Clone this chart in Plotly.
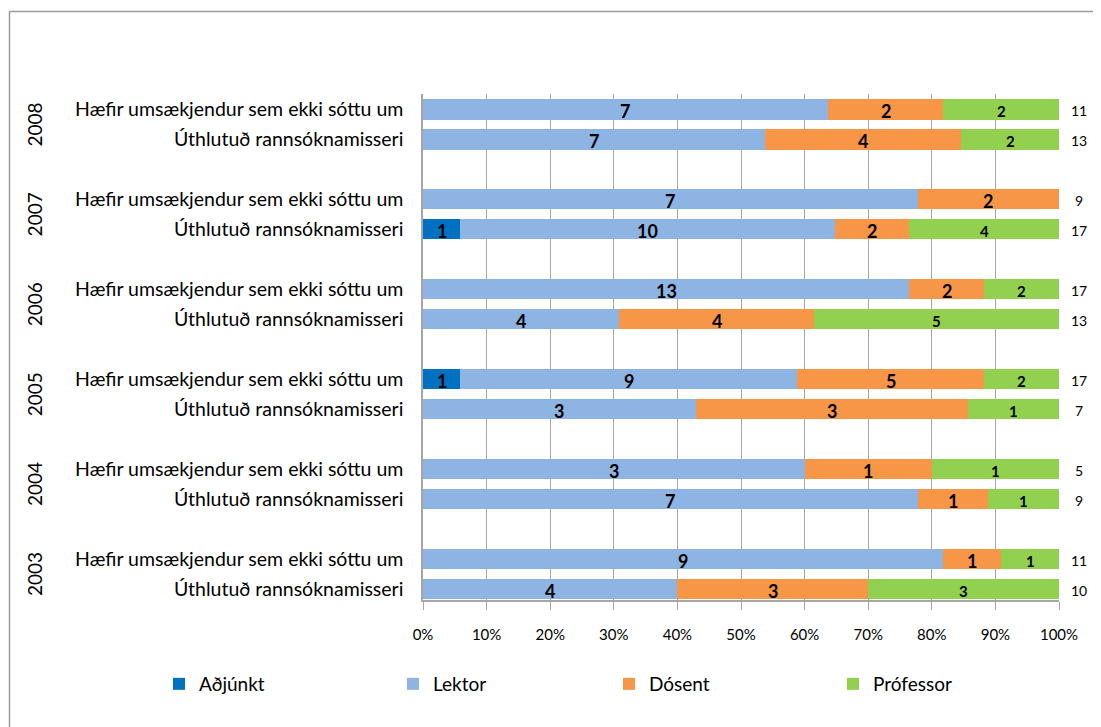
import plotly.graph_objects as go

# ---------------- data ----------------
years = ["2008", "2007", "2006", "2005", "2004", "2003"]
row_labels = ["Hæfir umsækjendur sem ekki sóttu um", "Úthlutuð rannsóknamisseri"]
series_names = ["Aðjúnkt", "Lektor", "Dósent", "Prófessor"]
series_colors = ["#0070C0", "#8EB4E3", "#F79646", "#92D050"]
# per year (2008 .. 2003): [Hæfir umsækjendur..., Úthlutuð rannsóknamisseri]
adjunkt = [[0, 0], [0, 1], [0, 0], [1, 0], [0, 0], [0, 0]]
lektor = [[7, 7], [7, 10], [13, 4], [9, 3], [3, 7], [9, 4]]
dosent = [[2, 4], [2, 2], [2, 4], [5, 3], [1, 1], [1, 3]]
professor = [[2, 2], [0, 4], [2, 5], [2, 1], [1, 1], [1, 3]]
x_ticks = [0, 10, 20, 30, 40, 50, 60, 70, 80, 90, 100]
x_tick_labels = [f"{v}%" for v in x_ticks]

series_data = [adjunkt, lektor, dosent, professor]

# ---------------- layout helpers ----------------
OFF = 8  # page body margin
W, H = 1093, 719
PLOT_L, PLOT_R, PLOT_T, PLOT_B = 423, 1059, 94, 600  # page pixels
L = PLOT_L - OFF
R = W - (PLOT_R - OFF)
T = PLOT_T - OFF
B = H - (PLOT_B - OFF)
pw, ph = W - L - R, H - T - B
n_slots = 3 * len(years) - 1  # two bars per year plus gap between years
top_index = n_slots - 1


def px_x(px):
    return (px - OFF - L) / pw


def px_y(py):
    return (H - B - (py - OFF)) / ph


# positions of bars (slot indices)
y_pos, y_text = [], []
for g, yr in enumerate(years):
    for k, lab in enumerate(row_labels):
        y_pos.append(top_index - 3 * g - k)
        y_text.append(lab)

flat = [[v for pair in s for v in pair] for s in series_data]
totals = [sum(col) for col in zip(*flat)]
pct = [[v / t * 100 for v, t in zip(s, totals)] for s in flat]

FONT = "Lato"
fig = go.Figure()
annotations = []

cum = [0.0] * len(totals)
label_sizes = [18, 18, 18, 15]
for i, (name, color) in enumerate(zip(series_names, series_colors)):
    leg = "legend" if i == 0 else f"legend{i + 1}"
    fig.add_trace(go.Bar(
        orientation="h", x=pct[i], y=y_pos, name=name,
        marker=dict(color=color, line=dict(width=0)),
        width=0.67, legend=leg, hoverinfo="skip",
    ))
    for c, p, v, y in zip(cum, pct[i], flat[i], y_pos):
        if v > 0:
            annotations.append(dict(
                x=c + p / 2, y=y, xref="x", yref="y", text=f"<b>{v}</b>",
                showarrow=False, xanchor="center", yanchor="middle",
                yshift=-2,
                font=dict(family=FONT, size=label_sizes[i], color="black"),
            ))
    cum = [c + p for c, p in zip(cum, pct[i])]

# totals at right
for y, t in zip(y_pos, totals):
    annotations.append(dict(
        x=100, y=y, xref="x", yref="y", text=str(t), showarrow=False,
        xanchor="center", yanchor="middle", xshift=20, yshift=-1,
        font=dict(family=FONT, size=14, color="black"),
    ))
# year labels
for g, yr in enumerate(years):
    annotations.append(dict(
        x=px_x(34), y=top_index - 3 * g - 0.5, xref="paper", yref="y",
        text=yr, textangle=-90, showarrow=False,
        xanchor="center", yanchor="middle",
        font=dict(family=FONT, size=19, color="black"),
    ))

frame_col = "#9C9C9C"
shapes = [
    dict(type="line", xref="paper", yref="paper",
         x0=px_x(9.5), x1=px_x(1110), y0=px_y(11.5), y1=px_y(11.5),
         line=dict(color=frame_col, width=1.5)),
    dict(type="line", xref="paper", yref="paper",
         x0=px_x(9.5), x1=px_x(9.5), y0=px_y(11.5), y1=px_y(740),
         line=dict(color=frame_col, width=1.5)),
]

legend_square_centers = [184, 418, 634, 858]
legend_common = dict(
    orientation="h", yanchor="middle", xanchor="left",
    y=px_y(684), bgcolor="rgba(0,0,0,0)",
    font=dict(family=FONT, size=19, color="black"),
)
legends = {}
for i, cx in enumerate(legend_square_centers):
    key = "legend" if i == 0 else f"legend{i + 1}"
    legends[key] = dict(legend_common, x=px_x(cx - 25))

grid_col = "#A6A6A6"
fig.update_layout(
    width=W, height=H, autosize=False,
    margin=dict(l=L, r=R, t=T, b=B, pad=0),
    barmode="stack", bargap=0,
    plot_bgcolor="white", paper_bgcolor="white",
    font=dict(family=FONT, color="black"),
    showlegend=True,
    annotations=annotations, shapes=shapes,
    xaxis=dict(
        range=[0, 100], tickvals=x_ticks, ticktext=x_tick_labels,
        showgrid=True, gridcolor=grid_col, gridwidth=1,
        showline=True, linecolor=grid_col, linewidth=1.5,
        ticks="outside", ticklen=8, tickcolor=grid_col, tickwidth=1,
        ticklabelstandoff=12, zeroline=False, fixedrange=True,
        tickfont=dict(family=FONT, size=15, color="black"),
    ),
    yaxis=dict(
        range=[-0.367, n_slots - 0.483], tickvals=y_pos, ticktext=y_text,
        showgrid=False, zeroline=False,
        showline=True, linecolor=grid_col, linewidth=1.5, mirror=False,
        ticks="", ticklabelstandoff=14, fixedrange=True,
        tickfont=dict(family=FONT, size=19.5, color="black"),
    ),
    **legends,
)

fig.write_html("out.html")
